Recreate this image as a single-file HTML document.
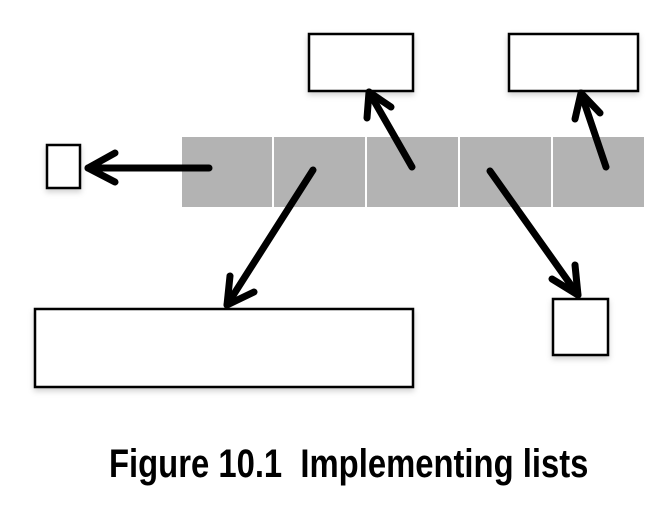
<!DOCTYPE html>
<html><head><meta charset="utf-8"><style>
html,body{margin:0;padding:0;background:#fff;width:672px;height:508px;overflow:hidden}
.cap{position:absolute;left:109px;top:441px;font-family:"Liberation Sans",sans-serif;font-weight:bold;font-size:40px;line-height:46px;white-space:nowrap;transform-origin:0 0;transform:scaleX(0.82);color:#000}
</style></head><body>
<svg width="672" height="508" style="position:absolute;left:0;top:0">
<defs><filter id="s" x="-20%" y="-20%" width="140%" height="150%"><feDropShadow dx="0" dy="3" stdDeviation="3" flood-color="#000" flood-opacity="0.18"/></filter></defs>
<rect x="182" y="137" width="462" height="70" fill="#b3b3b3"/>
<g stroke="#fff" stroke-width="2"><line x1="273" y1="137" x2="273" y2="207"/><line x1="366" y1="137" x2="366" y2="207"/><line x1="459" y1="137" x2="459" y2="207"/><line x1="552" y1="137" x2="552" y2="207"/></g>
<g fill="#fff" stroke="#000" stroke-width="2.5" filter="url(#s)">
<rect x="47" y="145" width="33" height="43"/>
<rect x="309" y="34" width="104" height="57"/>
<rect x="509" y="34" width="129" height="57"/>
<rect x="35" y="309" width="378" height="78"/>
<rect x="553" y="299" width="55" height="56"/>
</g>
<g stroke="#000" stroke-width="7" stroke-linecap="round" stroke-linejoin="round" fill="none">
<line x1="209" y1="168" x2="88" y2="168"/><polyline points="115,153 88,168 115,182"/>
<line x1="313" y1="170" x2="227" y2="305"/><polyline points="230,276 227,305 254,292"/>
<line x1="412" y1="167" x2="369" y2="92"/><polyline points="367,118 369,92 391,107"/>
<line x1="490" y1="171" x2="578" y2="295"/><polyline points="552,279 578,295 575,265"/>
<line x1="606" y1="167" x2="581" y2="93"/><polyline points="575,119 581,93 600,113"/>
</g>
</svg>
<div class="cap">Figure 10.1&nbsp; Implementing lists</div>
</body></html>
